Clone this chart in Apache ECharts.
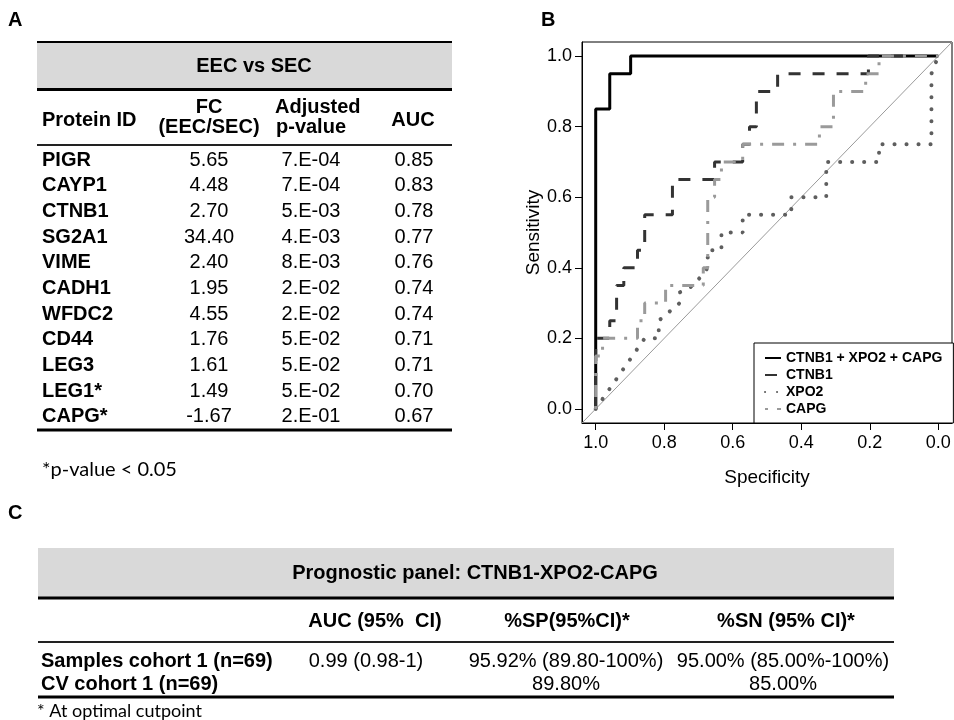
<!DOCTYPE html>
<html><head><meta charset="utf-8">
<script src="https://cdn.jsdelivr.net/npm/echarts@6/dist/echarts.min.js"></script>
<style>html,body{margin:0;padding:0;background:#fff}#c{width:954px;height:720px}</style>
</head><body><div id="c"></div>
<script>
// ---------- Panel A table ----------
const tableATitle = 'EEC vs SEC';
const tableAHeaders = ['Protein ID', ['FC', '(EEC/SEC)'], ['Adjusted', 'p-value'], 'AUC'];
const proteinIds = ['PIGR','CAYP1','CTNB1','SG2A1','VIME','CADH1','WFDC2','CD44','LEG3','LEG1*','CAPG*'];
const foldChanges = ['5.65','4.48','2.70','34.40','2.40','1.95','4.55','1.76','1.61','1.49','-1.67'];
const adjustedPValues = ['7.E-04','7.E-04','5.E-03','4.E-03','8.E-03','2.E-02','2.E-02','5.E-02','5.E-02','5.E-02','2.E-01'];
const aucValues = ['0.85','0.83','0.78','0.77','0.76','0.74','0.74','0.71','0.71','0.70','0.67'];
const tableANote = '*p-value < 0.05';

// ---------- Panel C table ----------
const tableCTitle = 'Prognostic panel: CTNB1-XPO2-CAPG';
const tableCHeaders = ['AUC (95%  CI)', '%SP(95%CI)*', '%SN (95% CI)*'];
const cohortRows = ['Samples cohort 1 (n=69)', 'CV cohort 1 (n=69)'];
const cohortAUC = ['0.99 (0.98-1)', ''];
const cohortSP = ['95.92% (89.80-100%)', '89.80%'];
const cohortSN = ['95.00% (85.00%-100%)', '85.00%'];
const tableCNote = '* At optimal cutpoint';

// ---------- Panel B ROC ----------
const rocNames = ['CTNB1 + XPO2 + CAPG', 'CTNB1', 'XPO2', 'CAPG'];
const axisTicks = [0, 0.2, 0.4, 0.6, 0.8, 1.0];
const comboSpec = [1, 1, 0.959, 0.959, 0.898, 0.898, 0];
const comboSens = [0, 0.85, 0.85, 0.95, 0.95, 1.0, 1.0];
const ctnb1Spec = [1, 1, 0.959, 0.959, 0.939, 0.939, 0.918, 0.918, 0.878, 0.878, 0.857, 0.857, 0.776, 0.776, 0.653, 0.653, 0.571, 0.571, 0.551, 0.551, 0.531, 0.531, 0.469, 0.469, 0.204, 0.204, 0];
const ctnb1Sens = [0, 0.20, 0.20, 0.25, 0.25, 0.35, 0.35, 0.40, 0.40, 0.45, 0.45, 0.55, 0.55, 0.65, 0.65, 0.70, 0.70, 0.75, 0.75, 0.80, 0.80, 0.90, 0.90, 0.95, 0.95, 1.0, 1.0];
const xpo2Spec = [1, 0.857, 0.816, 0.816, 0.755, 0.755, 0.714, 0.673, 0.673, 0.633, 0.633, 0.571, 0.571, 0.429, 0.429, 0.327, 0.327, 0.173, 0.173, 0.020, 0.020, 0];
const xpo2Sens = [0, 0.20, 0.20, 0.25, 0.30, 0.33, 0.35, 0.40, 0.45, 0.45, 0.50, 0.50, 0.55, 0.55, 0.60, 0.60, 0.70, 0.70, 0.75, 0.75, 0.95, 1.0];
const capgSpec = [1, 1, 0.980, 0.980, 0.878, 0.878, 0.857, 0.857, 0.796, 0.796, 0.686, 0.686, 0.673, 0.673, 0.653, 0.653, 0.633, 0.633, 0.571, 0.571, 0.347, 0.347, 0.306, 0.306, 0.212, 0.212, 0.173, 0.173, 0];
const capgSens = [0, 0.15, 0.15, 0.20, 0.20, 0.25, 0.25, 0.30, 0.30, 0.35, 0.35, 0.40, 0.40, 0.60, 0.60, 0.65, 0.65, 0.70, 0.70, 0.75, 0.75, 0.80, 0.80, 0.90, 0.90, 0.95, 0.95, 1.0, 1.0];
const diagSpec = [1.04, -0.04];
const diagSens = [-0.04, 1.04];

const zip = (a, b) => a.map((v, i) => [v, b[i]]);

const F = "'Liberation Sans', Arial, sans-serif";
const NOTEF = "Lato, 'Noto Sans', sans-serif";
const g = [];
function txt(t, x, y, opt) {
  opt = opt || {};
  g.push({ type: 'text', silent: true, style: {
    text: t, x: x, y: y, fill: '#000',
    font: (opt.bold ? 'bold ' : '') + (opt.size || 20) + 'px ' + (opt.family || F),
    align: opt.align || 'left', verticalAlign: 'middle' } });
}
function hline(x1, x2, y, w, c) {
  g.push({ type: 'line', silent: true, shape: { x1: x1, y1: y, x2: x2, y2: y }, style: { stroke: c || '#000', lineWidth: w } });
}
function band(x, y, w, h) {
  g.push({ type: 'rect', silent: true, shape: { x: x, y: y, width: w, height: h }, style: { fill: '#d9d9d9' } });
}

// Panel labels
txt('A', 8, 20, { bold: true, size: 20 });
txt('B', 541, 20, { bold: true, size: 20 });
txt('C', 8, 513, { bold: true, size: 20 });

// Table A
const aL = 37, aR = 452;
band(aL, 42, aR - aL, 47);
hline(aL, aR, 42, 2);
hline(aL, aR, 89.5, 3);
txt(tableATitle, 254, 66, { bold: true, size: 20, align: 'center' });
txt(tableAHeaders[0], 42, 120, { bold: true, size: 20 });
txt(tableAHeaders[1][0], 209, 107, { bold: true, size: 20, align: 'center' });
txt(tableAHeaders[1][1], 209, 127, { bold: true, size: 20, align: 'center' });
txt(tableAHeaders[2][0], 275, 107, { bold: true, size: 20 });
txt(tableAHeaders[2][1], 276, 127, { bold: true, size: 20 });
txt(tableAHeaders[3], 413, 120, { bold: true, size: 20, align: 'center' });
hline(aL, aR, 145, 2, '#222');
proteinIds.forEach((p, i) => {
  const y = 160 + i * 25.67;
  txt(p, 42, y, { bold: true, size: 20 });
  txt(foldChanges[i], 209, y, { size: 20, align: 'center' });
  txt(adjustedPValues[i], 311, y, { size: 20, align: 'center' });
  txt(aucValues[i], 414, y, { size: 20, align: 'center' });
});
hline(aL, aR, 430, 3);
txt(tableANote, 42, 470, { size: 20, family: NOTEF });

// Table C
const cL = 38, cR = 894;
band(cL, 548, cR - cL, 49);
hline(cL, cR, 598, 3);
txt(tableCTitle, 475, 573, { bold: true, size: 20, align: 'center' });
const cX = [375, 567, 786];
tableCHeaders.forEach((h, i) => txt(h, cX[i], 621, { bold: true, size: 20, align: 'center' }));
hline(cL, cR, 642, 2, '#222');
const valX = [366, 566, 783];
cohortRows.forEach((r, i) => {
  const y = 661 + i * 23;
  txt(r, 41, y, { bold: true, size: 20 });
  txt(cohortAUC[i], valX[0], y, { size: 20, align: 'center' });
  txt(cohortSP[i], valX[1], y, { size: 20, align: 'center' });
  txt(cohortSN[i], valX[2], y, { size: 20, align: 'center' });
});
hline(cL, cR, 697, 3);
txt(tableCNote, 37, 711, { size: 18, family: NOTEF });

const chart = echarts.init(document.getElementById('c'), null, { renderer: 'canvas' });
const lineS = (name, spec, sens, style, z) => ({
  name: name, type: 'line', data: zip(spec, sens), symbol: 'none', showSymbol: false,
  color: style.color, itemStyle: { color: style.color },
  lineStyle: style, z: z, silent: true, animation: false, clip: true
});
chart.setOption({
  animation: false,
  backgroundColor: '#fff',
  textStyle: { fontFamily: F },
  grid: { left: 582, top: 42, width: 370, height: 381, show: true, borderColor: '#000', borderWidth: 1, backgroundColor: 'transparent' },
  xAxis: {
    type: 'value', inverse: true, min: -0.04, max: 1.04,
    axisLine: { show: true, onZero: false, lineStyle: { color: '#000', width: 1 } },
    axisTick: { show: true, customValues: axisTicks, length: 7, lineStyle: { color: '#000' } },
    axisLabel: { customValues: axisTicks, formatter: v => v.toFixed(1), fontSize: 18, color: '#000', margin: 11, fontFamily: F },
    splitLine: { show: false },
    name: 'Specificity', nameLocation: 'middle', nameGap: 45,
    nameTextStyle: { fontSize: 19, color: '#000', fontFamily: F }
  },
  yAxis: {
    type: 'value', min: -0.04, max: 1.04,
    axisLine: { show: true, onZero: false, lineStyle: { color: '#000', width: 1 } },
    axisTick: { show: true, customValues: axisTicks, length: 7, lineStyle: { color: '#000' } },
    axisLabel: { customValues: axisTicks, formatter: v => v.toFixed(1), fontSize: 18, color: '#000', margin: 10, fontFamily: F },
    splitLine: { show: false },
    name: 'Sensitivity', nameLocation: 'middle', nameGap: 33,
    nameTextStyle: { fontSize: 19, color: '#000', fontFamily: F }
  },
  legend: {
    data: rocNames, orient: 'vertical', left: 754, top: 343,
    itemWidth: 16, itemHeight: 14, itemGap: 3, padding: [8, 11, 7, 10],
    borderColor: '#000', borderWidth: 1, backgroundColor: '#fff',
    itemStyle: { opacity: 0 },
    textStyle: { fontSize: 14, fontWeight: 'bold', color: '#000', fontFamily: F },
    selectedMode: false
  },
  series: [
    lineS('diag', diagSpec, diagSens, { color: '#9a9a9a', width: 1 }, 1),
    lineS(rocNames[0], comboSpec, comboSens, { color: '#000', width: 3 }, 2),
    lineS(rocNames[1], ctnb1Spec, ctnb1Sens, { color: '#333', width: 3, type: [12, 12] }, 3),
    lineS(rocNames[2], xpo2Spec, xpo2Sens, { color: '#5e5e5e', width: 4, type: [0.1, 11.9], cap: 'round' }, 4),
    lineS(rocNames[3], capgSpec, capgSens, { color: '#9a9a9a', width: 3, type: [3, 9, 12, 9] }, 5)
  ],
  graphic: g
});
</script></body></html>
